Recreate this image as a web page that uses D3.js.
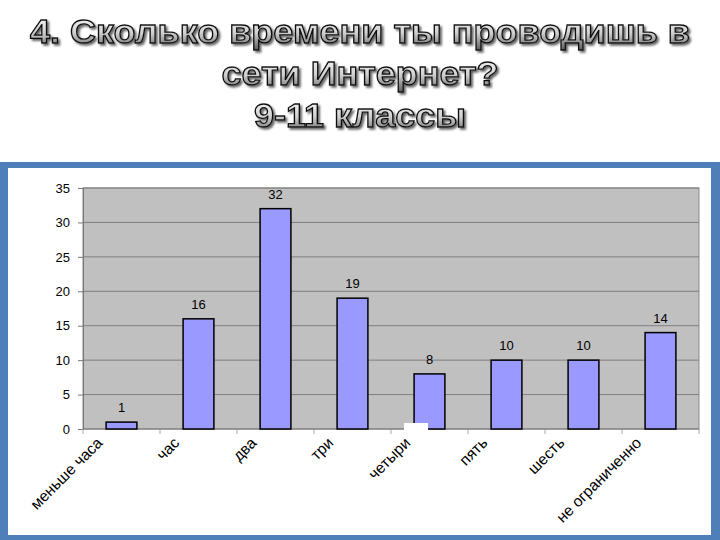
<!DOCTYPE html>
<html>
<head>
<meta charset="utf-8">
<script src="https://cdn.jsdelivr.net/npm/d3@7"></script>
<style>
body { margin: 0; background: #fff; }
svg { display: block; }
</style>
</head>
<body>
<svg id="chart"></svg>
<script>
var width = 720, height = 540

var titleLines = ["4. Сколько времени ты проводишь в", "сети Интернет?", "9-11 классы"]
var categories = ["меньше часа", "час", "два", "три", "четыри", "пять", "шесть", "не ограниченно"]
var values = [1, 16, 32, 19, 8, 10, 10, 14]
var yTicks = [0, 5, 10, 15, 20, 25, 30, 35]

var svg = d3.select("#chart")
    .attr("width", width)
    .attr("height", height)

var defs = svg.append("defs")
var grad = defs.append("linearGradient")
    .attr("id", "metal")
    .attr("x1", 0).attr("y1", 0).attr("x2", 0).attr("y2", 1)
grad.append("stop").attr("offset", "0%").attr("stop-color", "#ffffff")
grad.append("stop").attr("offset", "55%").attr("stop-color", "#d0d0d0")
grad.append("stop").attr("offset", "100%").attr("stop-color", "#5e5e5e")
defs.append("filter")
    .attr("id", "shadow")
    .attr("x", "-5%").attr("y", "-20%").attr("width", "110%").attr("height", "150%")
    .append("feDropShadow")
        .attr("dx", 2).attr("dy", 2)
        .attr("stdDeviation", 0.8)
        .attr("flood-color", "#666")

// title, outlined with a soft shadow
var titleY = [43, 85, 127]
var titleW = [660, 277, 212]
svg.append("g")
    .style("font-family", "Arial, 'Liberation Sans', sans-serif")
    .style("font-weight", "bold")
    .style("font-size", "34px")
    .attr("text-anchor", "middle")
    .attr("filter", "url(#shadow)")
    .selectAll("text")
    .data(titleLines)
    .enter()
    .append("text")
        .attr("x", 360)
        .attr("y", (d, i) => titleY[i])
        .attr("textLength", (d, i) => titleW[i])
        .attr("lengthAdjust", "spacingAndGlyphs")
        .attr("fill", "url(#metal)")
        .attr("stroke", "#111")
        .attr("stroke-width", 1.3)
        .text(d => d)

// blue frame with white chart area
svg.append("rect")
    .attr("x", 0).attr("y", 162)
    .attr("width", 720).attr("height", 378)
    .attr("fill", "#4f7fb8")
svg.append("rect")
    .attr("x", 8).attr("y", 168)
    .attr("width", 703).attr("height", 367)
    .attr("fill", "#fff")

var plot = { left: 83, top: 188, right: 699, bottom: 429 }

var x = d3.scaleBand()
    .domain(categories)
    .range([plot.left, plot.right])
    .paddingInner(0.6)
    .paddingOuter(0.3)

var y = d3.scaleLinear()
    .domain([0, 35])
    .range([plot.bottom, plot.top])

var g = svg.append("g")
    .style("font-family", "Arial, 'Liberation Sans', sans-serif")
    .style("font-size", "13px")

g.append("rect")
    .attr("x", plot.left).attr("y", plot.top)
    .attr("width", plot.right - plot.left)
    .attr("height", plot.bottom - plot.top)
    .attr("fill", "#c0c0c0")
    .attr("stroke", "#8a8a8a")

g.selectAll(".grid")
    .data(yTicks.slice(1))
    .enter()
    .append("line")
        .attr("class", "grid")
        .attr("x1", plot.left).attr("x2", plot.right)
        .attr("y1", d => y(d)).attr("y2", d => y(d))
        .attr("stroke", "#7f7f7f")
        .attr("stroke-width", 1)

var yAxis = g.append("g")
    .attr("transform", "translate(" + plot.left + ",0)")
    .call(d3.axisLeft(y).tickValues(yTicks).tickSize(5).tickPadding(8))
yAxis.select(".domain").attr("stroke", "#777")
yAxis.selectAll(".tick line").attr("stroke", "#777")
yAxis.selectAll("text")
    .attr("fill", "#000")
    .style("font-size", "13px")
    .style("font-family", "Arial, 'Liberation Sans', sans-serif")

// category boundary ticks below the axis
var step = (plot.right - plot.left) / categories.length
g.selectAll(".xtick")
    .data(d3.range(categories.length + 1))
    .enter()
    .append("line")
        .attr("x1", d => plot.left + d * step).attr("x2", d => plot.left + d * step)
        .attr("y1", plot.bottom).attr("y2", plot.bottom + 5)
        .attr("stroke", "#aaa")

g.append("line")
    .attr("x1", plot.left).attr("x2", plot.right)
    .attr("y1", plot.bottom).attr("y2", plot.bottom)
    .attr("stroke", "#777")

g.selectAll(".bar")
    .data(values)
    .enter()
    .append("rect")
        .attr("class", "bar")
        .attr("x", (d, i) => x(categories[i]))
        .attr("y", d => y(d))
        .attr("width", x.bandwidth())
        .attr("height", d => y(0) - y(d))
        .attr("fill", "#9999ff")
        .attr("stroke", "#000")
        .attr("stroke-width", 1.5)

g.selectAll(".val")
    .data(values)
    .enter()
    .append("text")
        .attr("class", "val")
        .attr("x", (d, i) => x(categories[i]) + x.bandwidth() / 2)
        .attr("y", d => y(d) - 10)
        .attr("text-anchor", "middle")
        .text(d => d)

g.selectAll(".cat")
    .data(categories)
    .enter()
    .append("text")
        .attr("class", "cat")
        .attr("text-anchor", "end")
        .style("font-size", "15.5px")
        .attr("transform", d => "translate(" + (x(d) + x.bandwidth() / 2 - 22) + "," + 440 + ") rotate(-45)")
        .attr("dy", "0.35em")
        .text(d => d)

// small white patch over the axis, as in the picture
svg.append("rect")
    .attr("x", 404).attr("y", 423)
    .attr("width", 24).attr("height", 10)
    .attr("fill", "#fff")
</script>
</body>
</html>
